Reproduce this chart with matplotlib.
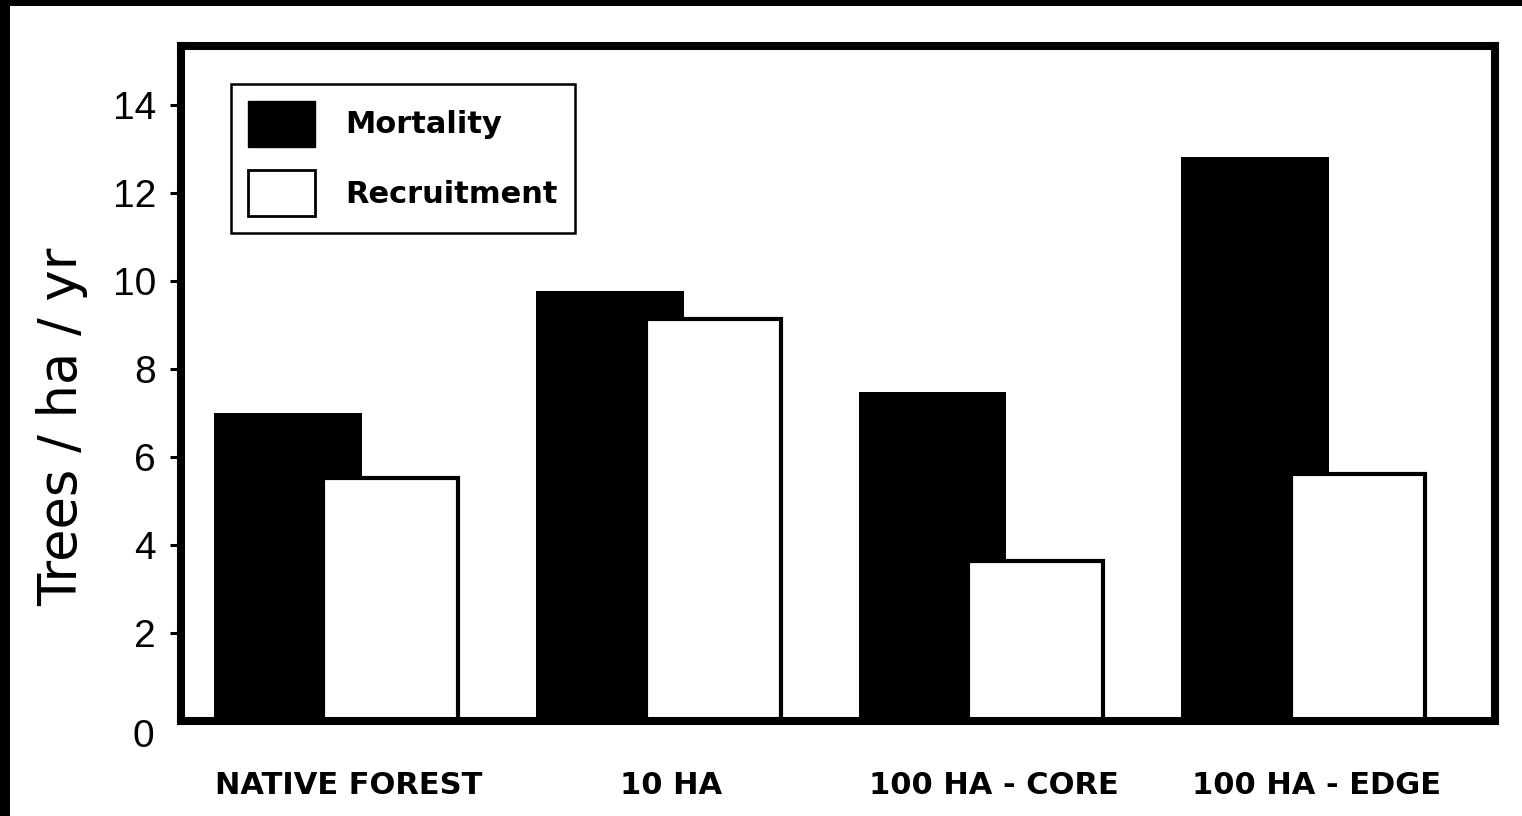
#!/usr/bin/env python3
# -*- coding: utf-8 -*-

import numpy as np
import matplotlib
matplotlib.use("Agg")
import matplotlib.pyplot as plt
from matplotlib.patches import Patch, Rectangle

# data
sites = ["NATIVE FOREST", "10 HA", "100 HA - CORE", "100 HA - EDGE"]
mortality = [7.0, 9.77, 7.48, 12.82]
recruitment = [5.52, 9.14, 3.64, 5.61]
yticks = [2, 4, 6, 8, 10, 12, 14]

fig = plt.figure(figsize=(15.22, 8.16), dpi=100)
ax = fig.add_axes([181 / 1522, 95 / 816, 1314 / 1522, 675 / 816])

x = np.arange(len(sites))
off = 0.16
ax.bar(x - off, mortality, width=0.458, color="black", edgecolor="black",
       linewidth=0, zorder=2)
ax.bar(x + off, recruitment, width=0.418, color="white", edgecolor="black",
       linewidth=3, zorder=3)

ax.set_xlim(-0.491, 3.585)
ax.set_ylim(0, 15.34)

for s in ax.spines.values():
    s.set_linewidth(5.8)
    s.set_zorder(5)

ax.set_xticks(x + 0.03)
ax.set_xticklabels(sites, fontsize=22, fontweight="bold", family="DejaVu Sans")
ax.tick_params(axis="x", length=0, pad=36)

ax.set_yticks(yticks)
ax.set_yticklabels([str(v) for v in yticks], fontsize=28, family="Liberation Sans")
ax.tick_params(axis="y", direction="out", length=8, width=2.2, pad=10)

# the zero label sits below the axis line, with no tick mark
ax.annotate("0", xy=(0, 0), xycoords=ax.get_yaxis_transform(),
            xytext=(-19, -11.5), textcoords="offset points",
            ha="right", va="center", fontsize=28, family="Liberation Sans")

ax.set_ylabel("Trees / ha / yr", fontsize=38)
ax.yaxis.set_label_coords(-0.071, 0.436)

handles = [Patch(facecolor="black", edgecolor="black", linewidth=1),
           Patch(facecolor="white", edgecolor="black", linewidth=2)]
leg = ax.legend(handles, ["Mortality", "Recruitment"], loc="upper left",
                bbox_to_anchor=(0.038, 0.944), borderaxespad=0,
                prop={"size": 22, "weight": "bold", "family": "DejaVu Sans"},
                handlelength=2.2, handleheight=1.94, handletextpad=1.0,
                labelspacing=0.78, borderpad=0.55, fancybox=False,
                framealpha=1, edgecolor="black")
leg.get_frame().set_linewidth(1.8)
leg.set_zorder(6)

# dark scan margins along the top and left edges
fig.patches.append(Rectangle((0, 1 - 6 / 816), 1, 6 / 816, transform=fig.transFigure,
                             facecolor="black", edgecolor="none"))
fig.patches.append(Rectangle((0, 0), 10 / 1522, 1, transform=fig.transFigure,
                             facecolor="black", edgecolor="none"))

fig.savefig("out.png", dpi=100)
